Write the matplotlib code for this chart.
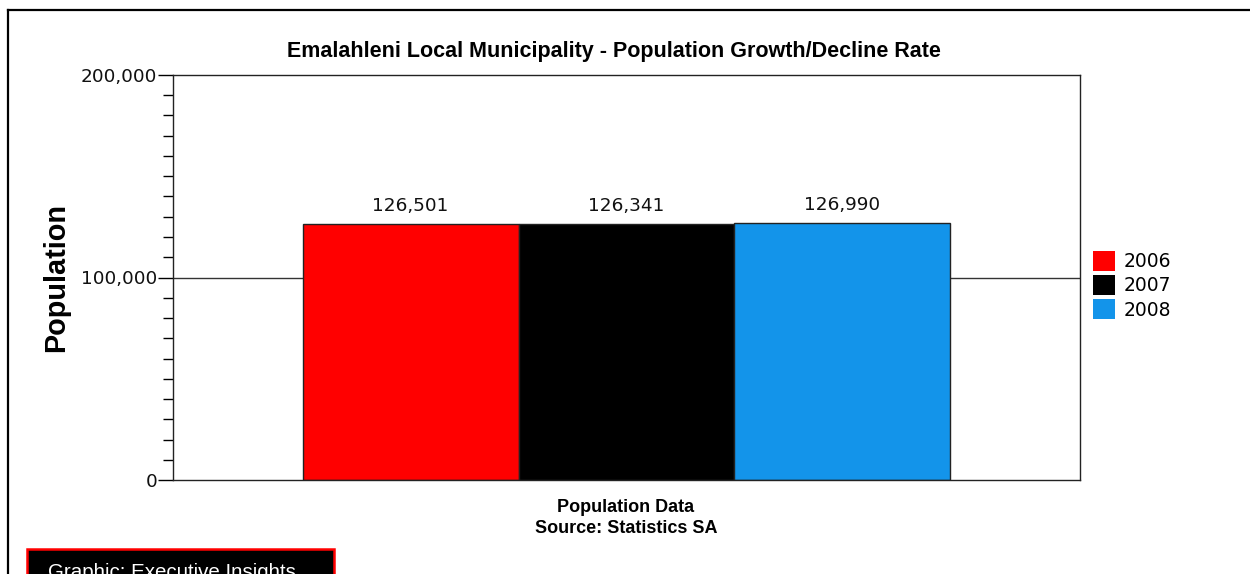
import matplotlib
matplotlib.use("Agg")
import matplotlib.pyplot as plt
from matplotlib.patches import Rectangle, Patch
from matplotlib.lines import Line2D
from matplotlib.ticker import MultipleLocator, FuncFormatter

# Population figures
years = ["2006", "2007", "2008"]
population = [126501, 126341, 126990]
colors = ["#ff0000", "#000000", "#1394ea"]
yticks = [0, 100000, 200000]

W, H = 1250, 574
fig = plt.figure(figsize=(W / 100, H / 100), dpi=100)
fig.patch.set_facecolor("white")

def px(x0, y0, x1, y1):
    """Pixel box (top-left origin) -> figure fraction [l, b, w, h]."""
    return [x0 / W, 1 - y1 / H, (x1 - x0) / W, (y1 - y0) / H]

ax = fig.add_axes(px(173, 75, 1080, 480))

bar_w = 0.238
offsets = [(i - (len(years) - 1) / 2) * bar_w for i in range(len(years))]
ax.axhline(100000, color="#333333", lw=1.0, zorder=1)
for off, val, col, yr in zip(offsets, population, colors, years):
    ax.bar(off, val, width=bar_w, color=col, edgecolor="#222222", lw=1.0,
           zorder=2, label=yr)
    ax.text(off, val + 4300, f"{val:,}", ha="center", va="bottom",
            fontsize=13.3, color="#111111")

ax.set_xlim(-0.5, 0.5)
ax.set_ylim(0, 200000)
ax.set_xticks([])
ax.set_yticks(yticks)
ax.yaxis.set_major_formatter(FuncFormatter(lambda v, p: f"{int(v):,}"))
ax.yaxis.set_minor_locator(MultipleLocator(10000))
ax.tick_params(axis="y", which="major", length=11, width=1, pad=0.3,
               labelsize=13.3, labelcolor="#111111")
ax.tick_params(axis="y", which="minor", length=7, width=1)
for s in ax.spines.values():
    s.set_color("#222222")
    s.set_linewidth(1.0)

fig.text(614 / W, 1 - 51 / H, "Emalahleni Local Municipality - Population Growth/Decline Rate",
         ha="center", va="center", fontsize=15.5, fontweight="bold",
         family="Liberation Sans")
fig.text(56 / W, 1 - 278 / H, "Population", rotation=90, ha="center", va="center",
         fontsize=20.8, fontweight="bold", family="Liberation Sans")
fig.text(626 / W, 1 - 518 / H, "Population Data\nSource: Statistics SA",
         ha="center", va="center", fontsize=13, fontweight="bold",
         family="Liberation Sans", linespacing=1.28)

handles = [Patch(facecolor=c, edgecolor="none", label=y) for c, y in zip(colors, years)]
fig.legend(handles=handles, loc="upper left", bbox_to_anchor=(1089 / W, 1 - 247 / H),
           frameon=False, fontsize=13.5, handlelength=1.2, handleheight=1.25,
           handletextpad=0.45, labelspacing=0.22, borderaxespad=0, borderpad=0.2)

# page frame
fig.add_artist(Line2D([8 / W, 1], [1 - 10 / H, 1 - 10 / H], color="black", lw=1.6))
fig.add_artist(Line2D([8 / W, 8 / W], [0, 1 - 10 / H], color="black", lw=1.6))

# credit badge
fig.add_artist(Rectangle((27 / W, -10 / H), (334 - 27) / W, (574 - 549 + 10) / H,
                         transform=fig.transFigure, facecolor="black",
                         edgecolor="#ff0000", lw=1.8))
fig.text(48 / W, -4 / H, "Graphic: Executive Insights", ha="left", va="baseline",
         color="white", fontsize=14.8, family="Liberation Sans")

fig.savefig("out.png", dpi=100)
